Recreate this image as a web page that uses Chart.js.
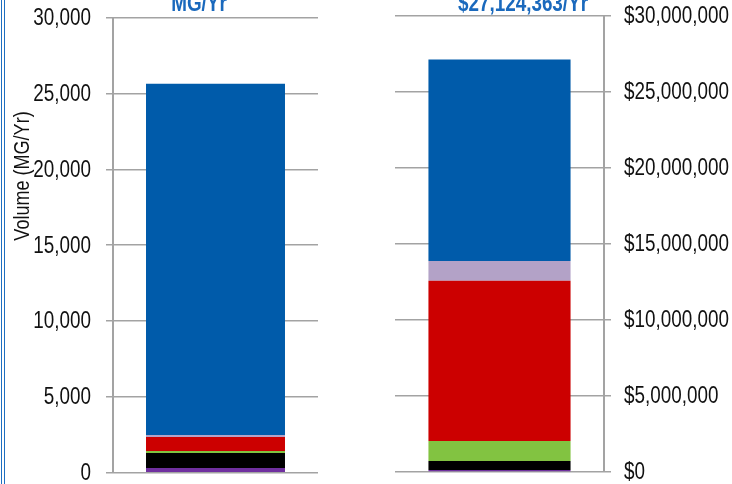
<!DOCTYPE html>
<html><head><meta charset="utf-8">
<script src="https://cdn.jsdelivr.net/npm/chart.js@4.4.1/dist/chart.umd.min.js"></script>
<style>
html,body{margin:0;padding:0;width:732px;height:484px;overflow:hidden;background:#fff;}
#c1{position:absolute;left:0;top:0;}
#c2{position:absolute;left:330px;top:0;}
.bl{position:absolute;top:0;width:1px;height:484px;background:#1F6FC0;}
</style></head><body>
<div class="bl" style="left:1px"></div><div class="bl" style="left:4px"></div>
<canvas id="c1" width="330" height="520"></canvas>
<canvas id="c2" width="402" height="520"></canvas>
<script>
const FONT = '"Liberation Sans", Arial, sans-serif';
const NARROW = 0.82;
const seriesNames = ['Purple', 'Black', 'Green', 'Red', 'Lavender', 'Blue'];
const seriesColors = ['#7030A0', '#000000', '#82C341', '#CC0000', '#B3A2C7', '#005BAA'];
const volumeCategories = ['Volume'];
const costCategories = ['Cost'];
const volumeValues = [310, 990, 130, 925, 130, 23165];
const costValues = [130000, 590000, 1320000, 10530000, 1310000, 13244363];
const volumeTickLabels = ['0', '5,000', '10,000', '15,000', '20,000', '25,000', '30,000'];
const costTickLabels = ['$0', '$5,000,000', '$10,000,000', '$15,000,000', '$20,000,000', '$25,000,000', '$30,000,000'];
const volumeAxisTitle = 'Volume (MG/Yr)';
const volumeBarTitle = 'MG/Yr';
const costBarTitle = '$27,124,363/Yr';

function drawNarrow(ctx, text, x, y, font, color, align, baseline, rot) {
  ctx.save();
  ctx.font = font;
  ctx.fillStyle = color;
  ctx.textAlign = align;
  ctx.textBaseline = baseline;
  ctx.translate(x, y);
  if (rot) ctx.rotate(rot);
  ctx.scale(NARROW, 1);
  ctx.fillText(text, 0, 0);
  ctx.restore();
}

function textPlugin(opts) {
  return {
    id: 'txt',
    afterDraw(chart) {
      const ctx = chart.ctx;
      const ys = chart.scales.y;
      ys.ticks.forEach((t, i) => {
        const y = ys.getPixelForValue(t.value);
        drawNarrow(ctx, opts.labels[i], opts.labelX, y + 1, '23px ' + FONT, '#111', opts.labelAlign, 'middle');
      });
      opts.texts.forEach(it => {
        drawNarrow(ctx, it.text, it.x, it.y, it.font, it.color, 'center', it.baseline || 'alphabetic', it.rot);
      });
    }
  };
}

function makeChart(el, cats, values, opts) {
  return new Chart(el, {
    type: 'bar',
    data: {
      labels: cats,
      datasets: seriesNames.map((n, i) => ({
        label: n, data: [values[i]], backgroundColor: seriesColors[i],
        borderWidth: 0, barPercentage: opts.barPct, categoryPercentage: 1
      }))
    },
    options: {
      responsive: false, animation: false,
      layout: { padding: opts.padding },
      plugins: { legend: { display: false }, tooltip: { enabled: false } },
      scales: {
        x: { stacked: true, display: false },
        y: {
          stacked: true, min: 0, max: opts.max, position: opts.pos,
          afterFit(s) { s.width = opts.axisWidth; s.paddingTop = 0; s.paddingBottom = 0; },
          ticks: { stepSize: opts.max / 6, display: false },
          grid: { color: '#A3A3A3', lineWidth: 1.5, tickLength: 7 },
          border: { display: true, color: '#A3A3A3', width: 2 }
        }
      }
    },
    plugins: [textPlugin(opts)]
  });
}

makeChart(document.getElementById('c1'), volumeCategories, volumeValues, {
  barPct: 0.678, max: 30000, pos: 'left', axisWidth: 113,
  labels: volumeTickLabels, labelX: 91, labelAlign: 'right',
  padding: { top: 17.7, bottom: 520 - 472.7, left: 0, right: 12 },
  texts: [
    { text: volumeAxisTitle, x: 23, y: 176, rot: -Math.PI / 2, color: '#111', font: '22px ' + FONT, baseline: 'middle' },
    { text: volumeBarTitle, x: 199, y: 10.5, color: '#1A69BD', font: 'bold 23px ' + FONT }
  ]
});

makeChart(document.getElementById('c2'), costCategories, costValues, {
  barPct: 0.68, max: 30000000, pos: 'right', axisWidth: 128,
  labels: costTickLabels, labelX: 294, labelAlign: 'left',
  padding: { top: 15.7, bottom: 520 - 472, left: 65, right: 0 },
  texts: [
    { text: costBarTitle, x: 193, y: 10.5, color: '#1A69BD', font: 'bold 23px ' + FONT }
  ]
});
</script>
</body></html>
